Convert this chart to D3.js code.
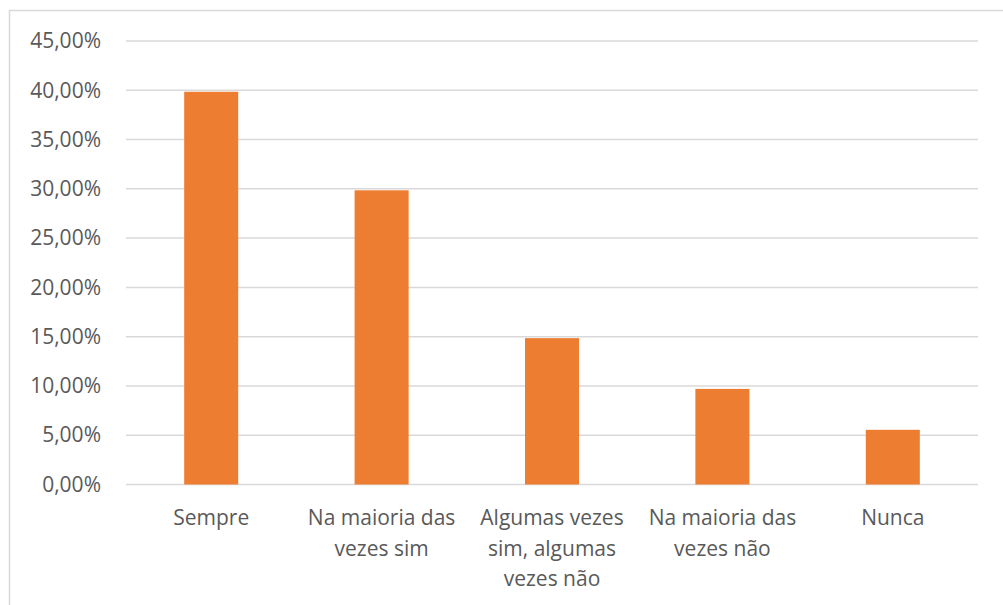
<!DOCTYPE html>
<html>
<head>
<meta charset="utf-8">
<script src="https://cdnjs.cloudflare.com/ajax/libs/d3/7.8.5/d3.min.js"></script>
<style>
  body { margin: 0; background: #fff; }
  svg { display: block; }
  .grid line { stroke: #d9d9d9; stroke-width: 1.5; }
  text { font-family: "Open Sans", sans-serif; fill: #595959; }
</style>
</head>
<body>
<svg width="1003" height="605"></svg>
<script>
var categories = ["Sempre", "Na maioria das vezes sim", "Algumas vezes sim, algumas vezes não",
                  "Na maioria das vezes não", "Nunca"];
var values = [0.3985, 0.2985, 0.1485, 0.097, 0.0555];
var yTicks = [0, 0.05, 0.10, 0.15, 0.20, 0.25, 0.30, 0.35, 0.40, 0.45];

var svg = d3.select("svg");
var plot = {left: 126, right: 978, top: 41, bottom: 484.5};

// outer chart frame (only top and left edges show)
svg.append("line").attr("x1", 9).attr("x2", 1003).attr("y1", 10.5).attr("y2", 10.5)
   .attr("stroke", "#d9d9d9").attr("stroke-width", 1.5);
svg.append("line").attr("x1", 9.5).attr("x2", 9.5).attr("y1", 10).attr("y2", 605)
   .attr("stroke", "#d9d9d9").attr("stroke-width", 1.5);

var locale = d3.formatLocale({decimal: ",", thousands: ".", grouping: [3], currency: ["", "%"]});
var pct = locale.format(".2%");

var x = d3.scaleBand()
          .domain(categories)
          .range([plot.left, plot.right])
          .paddingInner(0.683)
          .paddingOuter(0.3415);

var y = d3.scaleLinear()
          .domain([0, 0.45])
          .range([plot.bottom, plot.top]);

// gridlines
svg.append("g")
   .attr("class", "grid")
   .selectAll("line")
   .data(yTicks)
   .enter().append("line")
     .attr("x1", plot.left)
     .attr("x2", plot.right)
     .attr("y1", d => y(d))
     .attr("y2", d => y(d));

// y axis labels
var yAxis = d3.axisLeft(y).tickValues(yTicks).tickFormat(pct).tickSize(0).tickPadding(25);
var ya = svg.append("g")
   .attr("transform", "translate(" + plot.left + ",0)")
   .call(yAxis);
ya.select(".domain").remove();
ya.selectAll("text")
  .attr("font-family", null)
  .style("font-size", "21px")
  .attr("fill", null);

// bars
svg.append("g")
   .selectAll("rect")
   .data(values)
   .enter().append("rect")
     .attr("x", (d, i) => x(categories[i]))
     .attr("width", x.bandwidth())
     .attr("y", d => y(d))
     .attr("height", d => y(0) - y(d))
     .attr("fill", "#ed7d31");

// category labels
var xAxis = d3.axisBottom(x).tickSize(0).tickPadding(0);
var xa = svg.append("g")
   .attr("transform", "translate(0," + plot.bottom + ")")
   .call(xAxis);
xa.select(".domain").remove();
xa.selectAll("text")
  .attr("font-family", null)
  .attr("fill", null)
  .style("font-size", "21px")
  .call(wrap, x.step() - 8);

function wrap(texts, width) {
  texts.each(function() {
    var text = d3.select(this),
        words = text.text().split(/\s+/),
        lines = [], line = [];
    text.text(null);
    var probe = text.append("tspan");
    words.forEach(function(w) {
      line.push(w);
      probe.text(line.join(" "));
      if (probe.node().getComputedTextLength() > width && line.length > 1) {
        line.pop();
        lines.push(line.join(" "));
        line = [w];
      }
    });
    lines.push(line.join(" "));
    probe.remove();
    text.attr("y", 0).attr("dy", null);
    lines.forEach(function(l, i) {
      text.append("tspan")
          .attr("x", 0)
          .attr("y", 40.5 + i * 30.5)
          .text(l);
    });
  });
}
</script>
</body>
</html>
